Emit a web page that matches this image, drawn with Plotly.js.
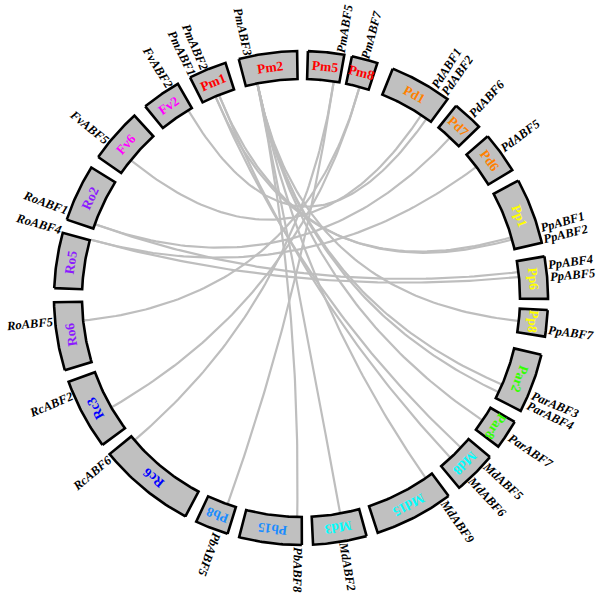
<!DOCTYPE html>
<html><head><meta charset="utf-8">
<script src="https://cdn.plot.ly/plotly-3.0.1.min.js"></script>
<style>html,body{margin:0;padding:0;background:#fff}#chart{width:600px;height:598px}</style>
</head><body><div id="chart"></div>
<script>
// Chromosome segments: angles in degrees, clockwise from 12 o'clock
const chromNames = ["Pm2","Pm5","Pm8","Pd1","Pd7","Pd6","Pp1","Pp6","Pp8","Par2","Par8","Md8","Md15","Md3","Pb15","Pb8","Rc6","Rc3","Ro6","Ro5","Ro2","Fv6","Fv2","Pm1"];
const chromStart = [345.4, 1.6, 11.9, 21.8, 38.9, 49.1, 61.6, 80.3, 92.8, 103.3, 120.1, 130.1, 143.3, 164.6, 179.8, 197.3, 207.9, 233.5, 253.0, 272.3, 288.5, 304.8, 320.9, 333.3];
const chromEnd   = [359.1, 10.1, 18.0, 36.4, 46.1, 58.8, 77.1, 90.2, 99.0, 117.2, 127.0, 140.2, 161.9, 177.2, 194.5, 205.1, 230.8, 250.2, 269.0, 285.3, 301.9, 317.6, 330.1, 342.2];
const speciesColor = {Pm:"#ff0000", Pd:"#ff8000", Pp:"#ffff00", Par:"#33ff00", Md:"#00ffff", Pb:"#1a8cff", Rc:"#0000ff", Ro:"#8c1aff", Fv:"#ff00ff"};

// Genes: position of the link end (angle) and of the label (angle)
const geneNames = ["PmABF1","PmABF2","PmABF3","PmABF5","PmABF7","PdABF1","PdABF2","PdABF6","PdABF5","PpABF1","PpABF2","PpABF4","PpABF5","PpABF7","ParABF3","ParABF4","ParABF7","MdABF5","MdABF6","MdABF9","MdABF2","PbABF8","PbABF5","RcABF6","RcABF2","RoABF5","RoABF4","RoABF1","FvABF5","FvABF2"];
const geneAngle = [337.0, 338.0, 348.5, 8.6, 15.5, 33.3, 35.0, 42.9, 53.2, 73.9, 74.5, 83.2, 84.5, 96.0, 113.3, 115.5, 124.0, 133.1, 136.9, 145.3, 169.7, 181.0, 199.6, 229.5, 240.0, 264.1, 285.5, 289.7, 309.0, 329.0];
const labelAngle = [333.9, 337.0, 347.6, 9.3, 15.0, 32.4, 35.2, 43.0, 53.6, 73.8, 76.4, 82.3, 85.1, 97.4, 112.8, 115.4, 123.8, 132.2, 136.9, 145.1, 170.3, 180.8, 199.6, 229.9, 246.9, 264.6, 285.7, 290.4, 308.8, 328.2];

// Syntenic links (gene pairs)
const linkFrom = ["PmABF1","PmABF2","PmABF1","PmABF2","PmABF3","PmABF3","PmABF3","PmABF3","PmABF3","PmABF3","PmABF3","PmABF5","PmABF5","PmABF7","PmABF7","FvABF2","FvABF5","RoABF1","RoABF4","RoABF1","RoABF4"];
const linkTo   = ["PpABF1","PpABF2","MdABF5","MdABF6","PbABF8","MdABF2","MdABF9","ParABF3","ParABF4","ParABF7","PpABF7","PbABF5","RcABF6","RcABF2","RoABF5","PdABF2","PdABF1","PdABF6","PdABF5","PpABF4","PpABF5"];

// ---- geometry (layout) ----
const CX = 301, CY = 298, R_IN = 219, R_OUT = 247, R_LINK = 218, R_LAB = 251;
function pt(r, a){ const t = a*Math.PI/180; return [CX + r*Math.sin(t), CY - r*Math.cos(t)]; }
function norm(a){ a = ((a % 360) + 360) % 360; if (a > 180) a -= 360; return a; }
function speciesOf(n){ return n.replace(/ABF.*$/,'').replace(/\d+$/,''); }

const traces = [];
const gIdx = {}; geneNames.forEach((g,i)=>gIdx[g]=i);
for (let k=0;k<linkFrom.length;k++){
  const a = geneAngle[gIdx[linkFrom[k]]], b = geneAngle[gIdx[linkTo[k]]];
  const A = pt(R_LINK,a), B = pt(R_LINK,b), C=[CX,CY];
  const xs=[], ys=[];
  for (let i=0;i<=80;i++){ const t=i/80, u=1-t;
    xs.push(u*u*A[0]+2*u*t*C[0]+t*t*B[0]); ys.push(u*u*A[1]+2*u*t*C[1]+t*t*B[1]); }
  traces.push({type:'scatter',mode:'lines',x:xs,y:ys,line:{color:'#bebebe',width:2.2},hoverinfo:'skip',showlegend:false});
}
const annotations = [];
for (let k=0;k<chromNames.length;k++){
  let s = chromStart[k], e = chromEnd[k]; if (e < s) e += 360;
  const xs=[], ys=[]; const n=30;
  for (let i=0;i<=n;i++){ const p=pt(R_OUT, s+(e-s)*i/n); xs.push(p[0]); ys.push(p[1]); }
  for (let i=n;i>=0;i--){ const p=pt(R_IN, s+(e-s)*i/n); xs.push(p[0]); ys.push(p[1]); }
  xs.push(xs[0]); ys.push(ys[0]);
  traces.push({type:'scatter',mode:'lines',x:xs,y:ys,fill:'toself',fillcolor:'#c0c0c0',line:{color:'#000',width:2.6},hoverinfo:'skip',showlegend:false});
  const mid = (s+e)/2; const p = pt((R_IN+R_OUT)/2, mid);
  const sp = speciesOf(chromNames[k]);
  annotations.push({x:p[0],y:p[1],xref:'x',yref:'y',text:'<b>'+chromNames[k]+'</b>',showarrow:false,textangle:norm(mid),
    xanchor:'center',yanchor:'middle',font:{family:'Liberation Serif, Times New Roman, serif',size:13.5,color:speciesColor[sp]}});
}
for (let k=0;k<geneNames.length;k++){
  const a = labelAngle[k]; const w = geneNames[k].length*7.1;
  const p = pt(R_LAB + w/2, a);
  const ang = (a <= 210) ? a - 90 : a - 270;
  annotations.push({x:p[0],y:p[1],xref:'x',yref:'y',text:'<b><i>'+geneNames[k]+'</i></b>',showarrow:false,textangle:norm(ang),
    xanchor:'center',yanchor:'middle',font:{family:'Liberation Serif, Times New Roman, serif',size:12.5,color:'#000'}});
}
const layout = {width:600,height:598,margin:{l:0,r:0,t:0,b:0},paper_bgcolor:'#fff',plot_bgcolor:'#fff',
  xaxis:{range:[0,600],visible:false,fixedrange:true},yaxis:{range:[598,0],visible:false,fixedrange:true},
  annotations:annotations,showlegend:false};
Plotly.newPlot('chart',traces,layout,{staticPlot:true,displayModeBar:false});
</script></body></html>
